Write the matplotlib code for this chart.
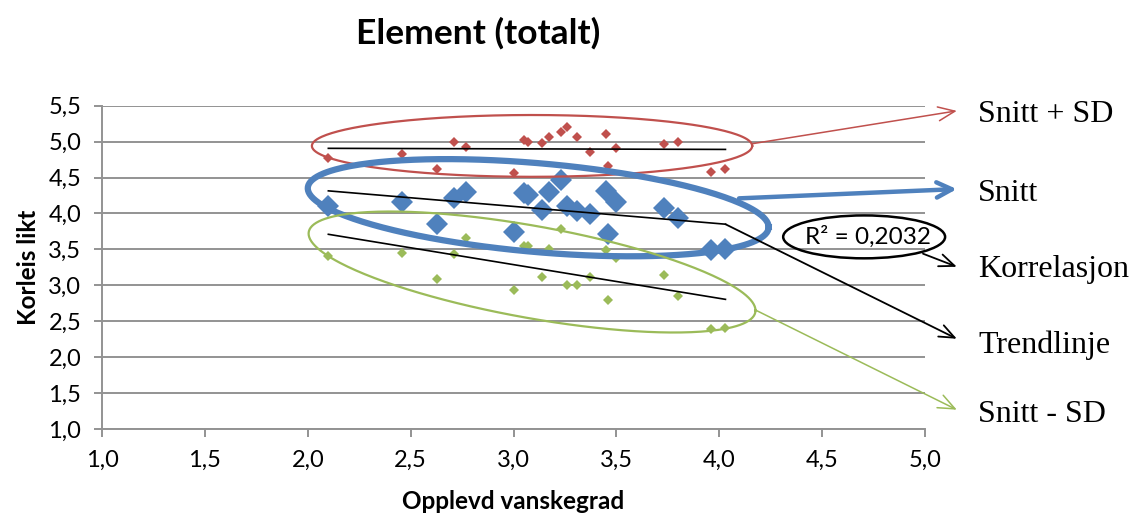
import numpy as np
import matplotlib
matplotlib.use("Agg")
import matplotlib.pyplot as plt
from matplotlib.patches import Ellipse

plt.rcParams['font.family'] = ['Lato', 'DejaVu Sans']

# Opplevd vanskegrad (same x for all three series)
vanskegrad = [2.10, 2.46, 2.63, 2.71, 2.77, 3.00, 3.05, 3.07, 3.14, 3.17, 3.23,
              3.26, 3.31, 3.37, 3.45, 3.46, 3.50, 3.73, 3.80, 3.96, 4.03]
snitt = [4.10, 4.16, 3.86, 4.22, 4.30, 3.74, 4.28, 4.26, 4.05, 4.30, 4.46,
         4.10, 4.04, 3.99, 4.31, 3.72, 4.16, 4.07, 3.93, 3.49, 3.51]
snitt_pluss_sd = [4.77, 4.83, 4.62, 4.99, 4.93, 4.56, 5.02, 4.99, 4.98, 5.07, 5.14,
                  5.20, 5.06, 4.86, 5.11, 4.66, 4.91, 4.97, 4.99, 4.57, 4.62]
snitt_minus_sd = [3.41, 3.45, 3.09, 3.43, 3.66, 2.93, 3.55, 3.55, 3.11, 3.51, 3.79,
                  3.01, 3.01, 3.11, 3.49, 2.80, 3.38, 3.15, 2.85, 2.39, 2.40]

x_ticks = [1.0, 1.5, 2.0, 2.5, 3.0, 3.5, 4.0, 4.5, 5.0]
y_ticks = [1.0, 1.5, 2.0, 2.5, 3.0, 3.5, 4.0, 4.5, 5.0, 5.5]
r2_text = "R² = 0,2032"

BLUE = "#4F81BD"
RED = "#C0504D"
GREEN = "#9BBB59"
GRID = "#939393"

fig = plt.figure(figsize=(11.31, 5.18), dpi=100)
ax = fig.add_axes([0.0902, 0.1718, 0.7277, 0.6242])

x = np.array(vanskegrad)

# markers
ax.plot(x, snitt_pluss_sd, 'D', color=RED, markersize=5.5, markeredgewidth=0, zorder=3)
ax.plot(x, snitt_minus_sd, 'D', color=GREEN, markersize=5.5, markeredgewidth=0, zorder=3)
ax.plot(x, snitt, 'D', color=BLUE, markersize=11.5, markeredgewidth=0, zorder=3)

# linear trendlines
for ys in (snitt_pluss_sd, snitt, snitt_minus_sd):
    k, m = np.polyfit(x, ys, 1)
    xs = np.array([x.min(), x.max()])
    ax.plot(xs, k * xs + m, color='black', lw=1.2, zorder=4)

ax.set_xlim(1.0, 5.0)
ax.set_ylim(1.0, 5.5)
ax.set_xticks(x_ticks)
ax.set_yticks(y_ticks)
ax.set_xticklabels([f"{v:.1f}".replace('.', ',') for v in x_ticks])
ax.set_yticklabels([f"{v:.1f}".replace('.', ',') for v in y_ticks])
ax.tick_params(labelsize=17, length=6, width=1.4, color=GRID, pad=9)
ax.grid(axis='y', color=GRID, lw=1.4)
ax.set_axisbelow(True)
for s in ('top', 'right'):
    ax.spines[s].set_visible(False)
for s in ('left', 'bottom'):
    ax.spines[s].set_color(GRID)
    ax.spines[s].set_linewidth(1.4)

ax.set_xlabel("Opplevd vanskegrad", fontsize=17.5, fontweight='bold', labelpad=14)
ax.set_ylabel("Korleis likt", fontsize=17.5, fontweight='bold', labelpad=6)
fig.text(0.423, 0.935, "Element (totalt)", fontsize=25.5, fontweight='bold',
         ha='center', va='center')

# hand drawn ellipses around the series
t = np.linspace(0, 2 * np.pi, 300)
def ring(cx, cy, a, b, s, color, lw):
    ax.plot(cx + a * np.cos(t), cy + b * np.sin(t) + s * np.cos(t),
            color=color, lw=lw, clip_on=False, zorder=5)

ring(3.09, 4.94, 1.07, 0.43, 0.0, RED, 1.6)
ring(3.12, 4.08, 1.12, 0.62, -0.27, BLUE, 4.5)
ring(3.09, 3.185, 1.086, 0.65, -0.535, GREEN, 1.6)

ax.add_patch(Ellipse((4.704, 3.674), 0.787, 0.597, fill=False, ec='black',
                     lw=1.8, clip_on=False, zorder=6))
ax.text(4.725, 3.674, r2_text, fontsize=17.5, ha='center', va='center', zorder=7)

# arrows to the labels
def arrow(start, end, color, lw, hl, hw):
    ax.annotate('', xy=end, xycoords='figure fraction', xytext=start, textcoords='data',
                arrowprops=dict(arrowstyle=f'->,head_length={hl},head_width={hw}',
                                color=color, lw=lw, shrinkA=0, shrinkB=0),
                annotation_clip=False, zorder=6)

arrow((4.159, 4.97), (0.846, 0.786), RED, 1.1, 1.2, 0.5)
arrow((4.096, 4.21), (0.846, 0.635), BLUE, 3.2, 1.1, 0.55)
arrow((4.99, 3.44), (0.846, 0.485), 'black', 1.3, 1.1, 0.45)
arrow((4.03, 3.85), (0.846, 0.346), 'black', 1.3, 1.1, 0.45)
arrow((4.18, 2.65), (0.846, 0.209), GREEN, 1.1, 1.2, 0.5)

labels = ["Snitt + SD", "Snitt", "Korrelasjon", "Trendlinje", "Snitt - SD"]
baselines = [121.7, 200.7, 276.7, 352.7, 422.3]
for lab, by in zip(labels, baselines):
    fig.text(0.8647, 1 - by / 518, lab, fontsize=23, family='Liberation Serif',
             ha='left', va='baseline')

fig.savefig("out.png", dpi=100)
